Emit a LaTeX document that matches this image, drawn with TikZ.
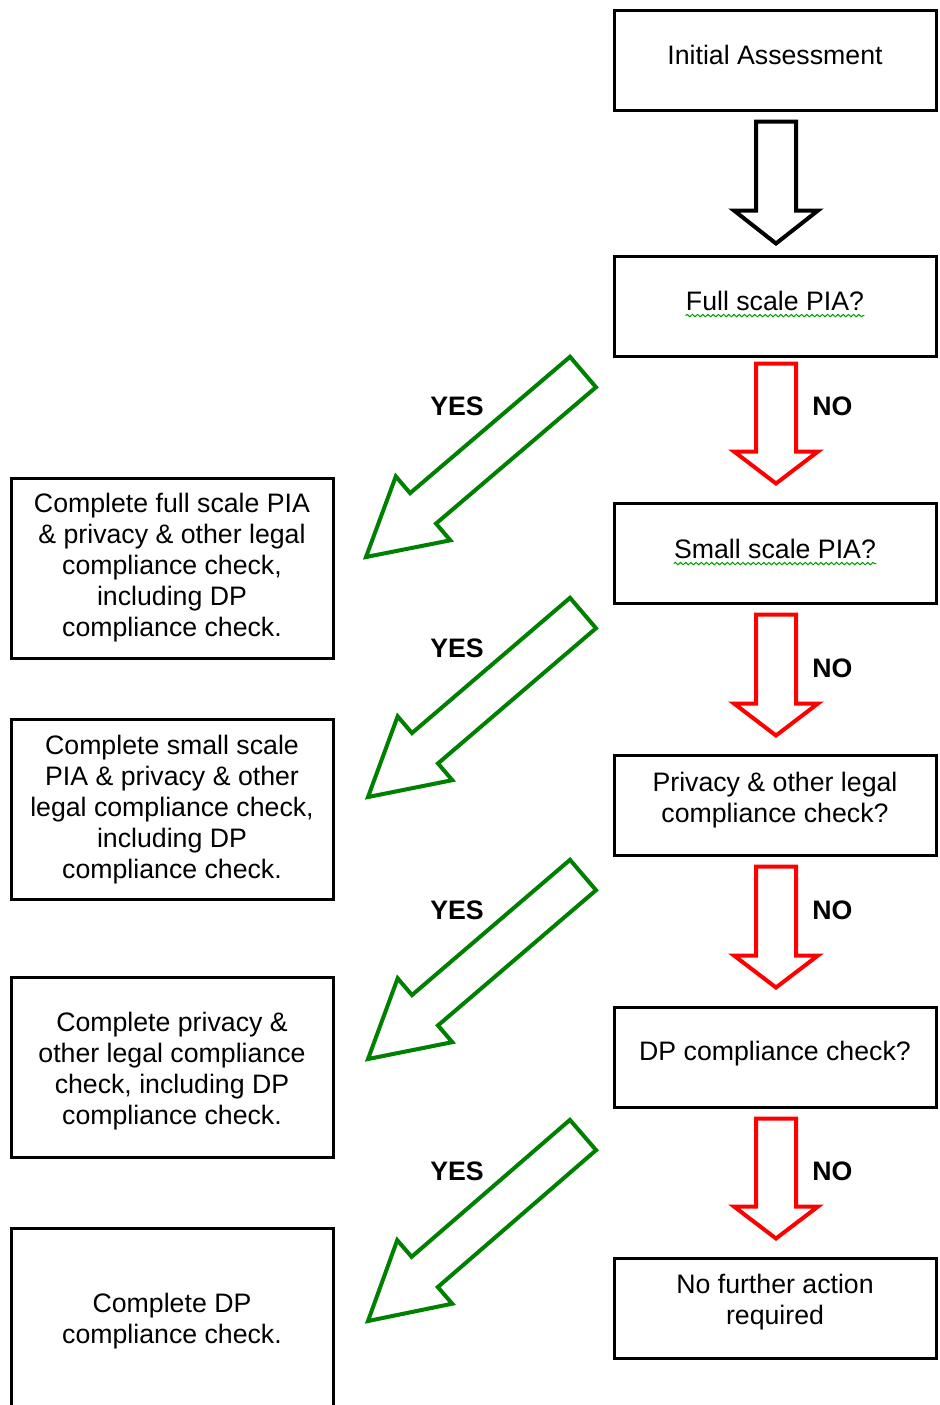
\documentclass[tikz,border=0pt]{standalone}
\usepackage{fontspec}
\setmainfont{Liberation Sans}
\usetikzlibrary{calc,decorations.pathmorphing}

\newcommand{\diagfont}{\fontsize{13.35pt}{15.5pt}\selectfont}

% fat outlined arrow: [options]{tail}{tip}{head length}
\newcommand{\blockarrow}[4][]{%
  \coordinate (ba-h) at ($(#3)!#4!(#2)$);
  \draw[fatarrow,#1] ($(#2)!10pt!90:(#3)$) -- ($(ba-h)!10pt!90:(#3)$)
    -- ($(ba-h)!21pt!90:(#3)$) -- (#3) -- ($(ba-h)!21pt!-90:(#3)$)
    -- ($(ba-h)!10pt!-90:(#3)$) -- ($(#2)!10pt!-90:(#3)$) -- cycle;
}

\tikzset{
  box/.style={draw, line width=1.5pt, minimum width=161pt, minimum height=50pt,
    align=center, inner sep=2pt, font=\diagfont},
  tallbox/.style={box, minimum height=90pt},
  word/.style={inner sep=0pt, align=center, font=\diagfont},
  answer/.style={inner sep=0pt, font=\diagfont\bfseries},
  fatarrow/.style={line width=2pt, line join=miter},
  squiggle/.style={draw=green!60!black, line width=0.5pt, decorate,
    decoration={snake, amplitude=0.6pt, segment length=2.6pt}},
}

\begin{document}
\begin{tikzpicture}[x=0.5pt, y=-0.5pt]
\useasboundingbox (0,0) rectangle (940,1405);

% questions (text sits a little above the middle)
\node[box] (a0) at (775,60) {};
\node[word] (a0t) at ($(a0)+(0,-5)$) {Initial Assessment};
\node[box] (q1) at (775,306) {};
\node[word] (q1t) at ($(q1)+(0,-5)$) {Full scale PIA?};
\node[box] (q2) at (775,553) {};
\node[word] (q2t) at ($(q2)+(0,-4)$) {Small scale PIA?};
\node[box] (q3) at (775,805) {};
\node[word] (q3t) at ($(q3)+(0,-5)$) {Privacy \& other legal\\compliance check?};
\node[box] (q4) at (775,1057) {};
\node[word] (q4t) at ($(q4)+(0,-3)$) {DP compliance check?};
\node[box] (q5) at (775,1308) {};
\node[word] (q5t) at ($(q5)+(0,-6)$) {No further action\\required};

\draw[squiggle] ([yshift=-2.2pt]q1t.south west) -- ([yshift=-2.2pt]q1t.south east);
\draw[squiggle] ([yshift=-2.2pt]q2t.south west) -- ([yshift=-2.2pt]q2t.south east);

% actions
\node[tallbox] (b1) at (172,568) {Complete full scale PIA\\\& privacy \& other legal\\compliance check,\\including DP\\compliance check.};
\node[tallbox] (b2) at (172,809.5) {Complete small scale\\PIA \& privacy \& other\\legal compliance check,\\including DP\\compliance check.};
\node[tallbox] (b3) at (172,1067.5) {};
\node[word] (b3t) at ($(b3)+(0,4)$) {Complete privacy \&\\other legal compliance\\check, including DP\\compliance check.};
\node[box, minimum height=93pt] (b4) at (172,1321) {Complete DP\\compliance check.};

% first step
\coordinate (s0a) at ($(a0.south)+(1,10)$);
\coordinate (s0b) at ($(q1.north)+(1,-11)$);
\blockarrow[black]{s0a}{s0b}{16.5pt}

% NO arrows
\foreach \u/\l/\gap in {q1/q2/6, q2/q3/10, q3/q4/10, q4/q5/10}{
  \coordinate (\u-no-a) at ($(\u.south)+(1,\gap)$);
  \coordinate (\u-no-b) at ($(\l.north)+(1,-18)$);
  \blockarrow[red]{\u-no-a}{\u-no-b}{16pt}
}
\node[answer, anchor=west] (no1) at (812,406) {NO};
\node[answer, anchor=west] (no2) at (812,668) {NO};
\node[answer, anchor=west] (no3) at (812,910) {NO};
\node[answer, anchor=west] (no4) at (812,1171) {NO};

% YES arrows
\coordinate (y1a) at (583,372);  \coordinate (y1b) at (366,557);
\coordinate (y2a) at (583,613);  \coordinate (y2b) at (368,797);
\coordinate (y3a) at (583,875);  \coordinate (y3b) at (368,1059);
\coordinate (y4a) at (583,1135); \coordinate (y4b) at (368,1321);
\foreach \k in {1,...,4}{
  \blockarrow[green!50!black]{y\k a}{y\k b}{37.5pt}
}
\node[answer] (yes1) at (457,406) {YES};
\node[answer] (yes2) at (457,648) {YES};
\node[answer] (yes3) at (457,910) {YES};
\node[answer] (yes4) at (457,1171) {YES};

\end{tikzpicture}
\end{document}
